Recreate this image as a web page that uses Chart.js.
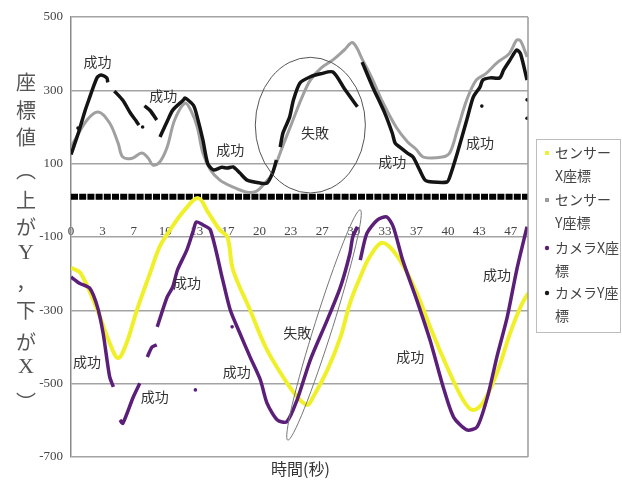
<!DOCTYPE html>
<html><head><meta charset="utf-8">
<script src="https://cdn.jsdelivr.net/npm/chart.js@4.4.1/dist/chart.umd.min.js"></script>
<style>html,body{margin:0;padding:0;background:#fff}#wrap{width:622px;height:481px;position:relative}</style>
</head><body><div id="wrap"><canvas id="c"></canvas></div>
<script>
// ---- axis ticks ----
const xTickValues = [0, 3.333, 6.667, 10, 13.333, 16.667, 20, 23.333, 26.667, 30, 33.333, 36.667, 40, 43.333, 46.667];
const xTickLabels = ['0','3','7','10','13','17','20','23','27','30','33','37','40','43','47'];
const yTicksMin = -700, yTicksMax = 500, yTickStep = 200;

// ---- series names / legend ----
const seriesNames = ['センサーX座標','センサーY座標','カメラX座標','カメラY座標'];
const legendLines = [['センサー','X座標'],['センサー','Y座標'],['カメラX座','標'],['カメラY座','標']];

// ---- センサーX座標 (yellow) ----
const sensorXTime  = [0, 1.0, 2.8, 4.1, 5.0, 5.9, 7.0, 8.4, 9.4, 10.5, 12.0, 13.5, 14.6, 15.8, 16.6, 17.2, 19.0, 20.8, 23.2, 24.3, 25.1, 25.7, 27.2, 28.6, 29.6, 30.7, 31.7, 33.1, 34.9, 36.7, 38.1, 39.9, 41.6, 42.6, 43.7, 45.2, 46.6, 47.7, 48.5];
const sensorXValue = [-184, -198, -299, -389, -430, -389, -299, -198, -127, -81, -28, 6, -35, -81, -100, -190, -299, -408, -509, -544, -558, -536, -463, -373, -281, -209, -154, -116, -163, -253, -345, -454, -544, -572, -553, -471, -362, -291, -253];

// ---- センサーY座標 (gray) ----
const sensorYTime  = [0, 1.7, 2.9, 4.1, 5.0, 5.5, 6.5, 7.5, 8.2, 8.7, 9.4, 10.2, 11.0, 12.1, 12.8, 13.4, 14.0, 14.8, 15.8, 17.2, 18.7, 19.7, 20.5, 21.3, 22.5, 23.5, 24.5, 25.4, 26.5, 27.8, 29.0, 29.9, 31.0, 32.0, 33.0, 34.5, 35.7, 36.6, 37.4, 39.4, 40.2, 41.0, 42.0, 43.0, 44.0, 45.2, 46.5, 47.3, 47.7, 48.4];
const sensorYValue = [146, 219, 241, 211, 156, 118, 115, 129, 115, 96, 104, 145, 219, 265, 241, 200, 129, 83, 55, 36, 22, 25, 45, 71, 150, 215, 280, 328, 360, 383, 410, 430, 380, 330, 272, 200, 160, 140, 118, 118, 130, 192, 274, 328, 345, 375, 400, 437, 435, 391];

// ---- カメラX座標 (purple) ----
const cameraXTime  = [0, 0.9, 2.0, 2.8, 3.4, 4.1, 4.5, 4.7, 5.2, 5.5, 6.6, 7.3, 7.6, 8.1, 8.6, 9.1, 9.12, 9.15, 10.2, 10.8, 11.3, 12.3, 13.0, 13.3, 14.0, 14.8, 16.1, 16.9, 17.9, 19.0, 20.1, 20.8, 21.9, 22.9, 24.0, 25.4, 27.2, 28.6, 29.6, 29.9, 30.4, 30.55, 30.7, 31.4, 32.5, 33.5, 34.2, 35.2, 36.7, 38.1, 39.5, 40.6, 42.0, 43.1, 44.2, 45.2, 46.3, 47.3, 48.4];
const cameraXValue = [-209, -226, -240, -290, -361, -481, -509, null, -599, -608, -537, -499, null, -427, -400, -394, null, -345, -264, -236, -190, -135, -81, -59, -67, -81, -217, -299, -361, -427, -490, -553, -599, -604, -544, -435, -326, -236, -145, -100, -72, null, -163, -90, -54, -45, -72, -163, -272, -381, -509, -591, -626, -618, -536, -427, -318, -190, -72];
const cameraXDotTime  = [13.2, 17.1];
const cameraXDotValue = [-517, -345];

// ---- カメラY座標 (black) ----
const cameraYTime  = [0, 0.8, 1.5, 2.0, 2.5, 2.8, 3.2, 3.8, 3.9, 4.1, 4.6, 5.5, 6.3, 6.9, 7.2, 7.4, 7.8, 8.4, 9.1, 9.2, 9.45, 10.2, 10.8, 11.9, 12.1, 13.0, 13.4, 14.0, 14.5, 15.1, 16.0, 16.6, 17.2, 17.9, 18.7, 20.1, 20.8, 21.4, 21.8, 22.0, 22.2, 22.5, 23.2, 23.6, 24.3, 25.4, 26.5, 27.8, 29.0, 30.4, 30.6, 30.9, 32.0, 33.3, 34.1, 34.4, 34.9, 35.7, 36.3, 37.0, 37.6, 38.4, 39.9, 40.2, 41.0, 42.0, 42.7, 43.4, 43.7, 44.5, 45.5, 45.9, 46.6, 47.3, 47.7, 48.4];
const cameraYValue = [125, 185, 245, 282, 318, 336, 342, 334, 322, null, 298, 273, 238, 217, 205, null, 258, 245, 219, null, 173, 215, 246, 273, 279, 259, 227, 164, 101, 83, 90, 88, 91, 75, 55, 47, 47, 75, 110, null, 145, 184, 227, 273, 320, 337, 345, 350, 305, 255, null, 377, 310, 238, 183, 156, 145, 129, 118, 83, 55, 50, 50, 64, 129, 219, 282, 309, 328, 334, 334, 355, 383, 410, 400, 328];
const cameraYDotTime  = [0.74, 7.6, 43.6, 48.4, 48.4];
const cameraYDotValue = [197, 200, 257, 274, 224];

// ---- black square band near zero ----
const bandTime  = [0, 48.5];
const bandValue = [10, 10];

// ---- annotations ----
const noteLabels = ['成功','成功','成功','失敗','成功','成功','成功','成功','成功','成功','失敗','成功','成功'];
const noteTime   = [2.8, 9.8, 16.9, 25.9, 34.1, 43.4, 12.3, 1.7, 8.9, 17.6, 24.0, 36.0, 45.2];
const noteValue  = [377, 285, 137, 184, 105, 156, -225, -441, -536, -468, -362, -427, -204];
const circleCenter = [25.4, 205];   // time, value
const circleRadius = [5.84, 185];   // in time, value units
const slimEllipseEnds = [[23.0, -654], [30.7, -26]];

const yTitleChars = ['座','標','値','︵','上','が','Y','，','下','が','X','︶'];
const xTitle = '時間(秒)';

function pairs(t, v) { return t.map((x, i) => ({ x: x, y: v[i] })); }

const deco = {
  id: 'deco',
  beforeDraw(chart) {
    const ctx = chart.ctx;
    ctx.save(); ctx.fillStyle = '#fff'; ctx.fillRect(0, 0, chart.width, chart.height); ctx.restore();
  },
  afterDatasetsDraw(chart) {
    const { ctx, chartArea: a, scales: { x, y } } = chart;
    ctx.save();
    ctx.strokeStyle = '#9a9a9a'; ctx.lineWidth = 1.5;
    ctx.beginPath(); ctx.moveTo(a.right, a.top); ctx.lineTo(a.right, a.bottom); ctx.stroke();
    ctx.strokeStyle = '#555'; ctx.lineWidth = 1;
    const cx = x.getPixelForValue(circleCenter[0]), cy = y.getPixelForValue(circleCenter[1]);
    const rx = Math.abs(x.getPixelForValue(circleCenter[0] + circleRadius[0]) - cx);
    const ry = Math.abs(y.getPixelForValue(circleCenter[1] + circleRadius[1]) - cy);
    ctx.beginPath(); ctx.ellipse(cx, cy, rx, ry, 0, 0, Math.PI * 2); ctx.stroke();
    const p1 = [x.getPixelForValue(slimEllipseEnds[0][0]), y.getPixelForValue(slimEllipseEnds[0][1])];
    const p2 = [x.getPixelForValue(slimEllipseEnds[1][0]), y.getPixelForValue(slimEllipseEnds[1][1])];
    const mx = (p1[0] + p2[0]) / 2, my = (p1[1] + p2[1]) / 2;
    const len = Math.hypot(p2[0] - p1[0], p2[1] - p1[1]) / 2;
    const ang = Math.atan2(p2[1] - p1[1], p2[0] - p1[0]);
    ctx.strokeStyle = '#777';
    ctx.beginPath(); ctx.ellipse(mx, my, len, 9, ang, 0, Math.PI * 2); ctx.stroke();
    ctx.fillStyle = '#333'; ctx.font = '14px "Noto Sans CJK JP"';
    ctx.textAlign = 'center'; ctx.textBaseline = 'middle';
    noteLabels.forEach((s, i) => ctx.fillText(s, x.getPixelForValue(noteTime[i]), y.getPixelForValue(noteValue[i])));
    ctx.restore();
  },
  afterDraw(chart) {
    const { ctx, chartArea: a } = chart;
    ctx.save();
    const lx = a.right + 8, ly = 139, lw = 84, lh = 193;
    ctx.strokeStyle = '#bdbdbd'; ctx.lineWidth = 1;
    ctx.strokeRect(lx + 0.5, ly + 0.5, lw, lh);
    const cols = ['#eeee33', '#9c9c9c', '#5a1e78', '#1a1a1a'];
    ctx.font = '14px "Noto Sans CJK JP"';
    ctx.textAlign = 'left'; ctx.textBaseline = 'middle';
    const rowY = [153, 200, 248, 293];
    legendLines.forEach((ls, i) => {
      ctx.fillStyle = cols[i];
      if (i < 2) ctx.fillRect(lx + 9, rowY[i] - 2, 4, 4);
      else { ctx.beginPath(); ctx.arc(lx + 11, rowY[i], 2.2, 0, Math.PI * 2); ctx.fill(); }
      ctx.fillStyle = '#444';
      ctx.fillText(ls[0], lx + 19, rowY[i]);
      ctx.fillText(ls[1], lx + 19, rowY[i] + 23);
    });
    const ty = [82, 110, 137, 170, 200, 227, 253, 282, 310, 342, 367, 402];
    ctx.fillStyle = '#555'; ctx.textAlign = 'center';
    yTitleChars.forEach((ch, i) => {
      ctx.font = (ch === 'Y' || ch === 'X') ? '22px "Liberation Serif"' : '20px "Noto Sans CJK JP"';
      ctx.fillText(ch, 26, ty[i]);
    });
    ctx.font = '16px "Noto Sans CJK JP"'; ctx.fillStyle = '#333';
    ctx.fillText(xTitle, (a.left + a.right) / 2 + 1, 469);
    ctx.restore();
  }
};

const lineDs = (label, t, v, color, width, order, tension) => ({
  label, data: pairs(t, v), borderColor: color, backgroundColor: color,
  borderWidth: width, pointRadius: 0, tension: tension, spanGaps: false, order, fill: false
});
const dotDs = (label, t, v, color, order) => ({
  label, data: pairs(t, v), showLine: false, pointRadius: 1.8, pointBorderWidth: 0,
  pointBackgroundColor: color, borderColor: color, backgroundColor: color, order
});

new Chart(document.getElementById('c'), {
  type: 'line',
  data: {
    datasets: [
      lineDs(seriesNames[2], cameraXTime, cameraXValue, '#5b1f7a', 3.5, 1, 0.25),
      dotDs(seriesNames[2] + ' dots', cameraXDotTime, cameraXDotValue, '#5b1f7a', 1),
      lineDs(seriesNames[3], cameraYTime, cameraYValue, '#141414', 3.5, 2, 0.25),
      dotDs(seriesNames[3] + ' dots', cameraYDotTime, cameraYDotValue, '#141414', 2),
      lineDs(seriesNames[0], sensorXTime, sensorXValue, '#f0f02a', 4, 3, 0.35),
      lineDs(seriesNames[1], sensorYTime, sensorYValue, '#a0a0a0', 3, 4, 0.35),
      Object.assign(lineDs('band', bandTime, bandValue, '#000', 6, 5, 0), { borderDash: [7, 1.2], borderCapStyle: 'butt' })
    ]
  },
  options: {
    responsive: true, maintainAspectRatio: false, animation: false,
    layout: { padding: { left: 0, top: 17, right: 94, bottom: 24 } },
    plugins: { legend: { display: false }, tooltip: { enabled: false } },
    scales: {
      x: {
        type: 'linear', min: 0, max: 48.5,
        position: { y: -38 },
        afterFit: s => { s.height = 0; },
        afterBuildTicks: s => { s.ticks = xTickValues.map(v => ({ value: v })); },
        grid: { display: false }, border: { display: false },
        ticks: {
          padding: 2, maxRotation: 0, autoSkip: false, color: '#444',
          font: { family: 'Liberation Serif', size: 13 },
          callback: (v, i) => xTickLabels[i]
        }
      },
      y: {
        min: yTicksMin, max: yTicksMax,
        afterFit: s => { s.width = 71; },
        grid: { color: '#a3a3a3', lineWidth: 1.5, drawTicks: false },
        border: { display: true, color: '#8a8a8a', width: 1.5 },
        ticks: { stepSize: yTickStep, padding: 8, color: '#444', font: { family: 'Liberation Serif', size: 13 } }
      }
    }
  },
  plugins: [deco]
});
</script></body></html>
